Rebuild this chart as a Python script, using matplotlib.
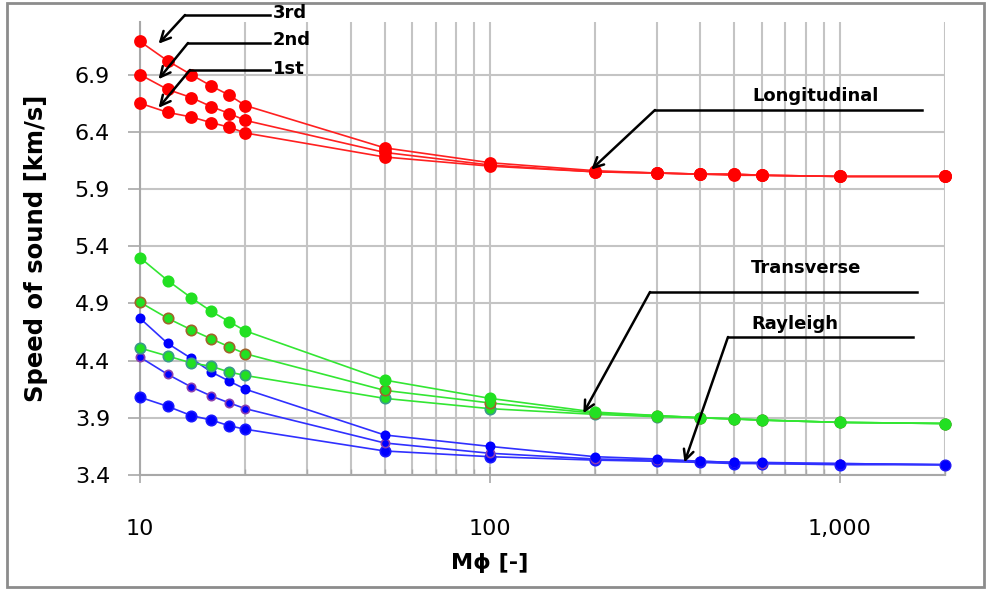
import numpy as np
import matplotlib
matplotlib.use('Agg')
from matplotlib import pyplot as plt
from matplotlib.lines import Line2D
from matplotlib.patches import Rectangle
from matplotlib.ticker import FixedLocator, FuncFormatter, NullFormatter

# M_phi values (x axis, log scale)
m_phi = [10, 12, 14, 16, 18, 20, 50, 100, 200, 300, 400, 500, 600, 1000, 2000]

# Longitudinal speed of sound [km/s]
long_1st = [6.65, 6.57, 6.53, 6.48, 6.44, 6.39, 6.18, 6.10, 6.05, 6.04, 6.03, 6.02, 6.02, 6.01, 6.01]
long_2nd = [6.90, 6.77, 6.70, 6.62, 6.56, 6.50, 6.22, 6.11, 6.05, 6.04, 6.03, 6.03, 6.02, 6.01, 6.01]
long_3rd = [7.19, 7.02, 6.90, 6.80, 6.72, 6.63, 6.26, 6.13, 6.06, 6.04, 6.03, 6.03, 6.02, 6.01, 6.01]

# Transverse
trans_1st = [4.51, 4.44, 4.38, 4.35, 4.30, 4.27, 4.07, 3.98, 3.93, 3.91, 3.90, 3.89, 3.88, 3.86, 3.85]
trans_2nd = [4.91, 4.77, 4.67, 4.59, 4.52, 4.46, 4.14, 4.03, 3.94, 3.92, 3.90, 3.89, 3.88, 3.86, 3.85]
trans_3rd = [5.30, 5.10, 4.95, 4.83, 4.74, 4.66, 4.23, 4.07, 3.95, 3.92, 3.90, 3.89, 3.88, 3.86, 3.85]

# Rayleigh
ray_1st = [4.08, 4.00, 3.92, 3.88, 3.83, 3.80, 3.61, 3.56, 3.53, 3.52, 3.51, 3.50, 3.50, 3.49, 3.49]
ray_2nd = [4.43, 4.28, 4.17, 4.09, 4.03, 3.98, 3.68, 3.59, 3.54, 3.53, 3.52, 3.51, 3.50, 3.50, 3.49]
ray_3rd = [4.77, 4.55, 4.42, 4.30, 4.22, 4.15, 3.75, 3.65, 3.56, 3.54, 3.52, 3.51, 3.51, 3.50, 3.49]

y_ticks = [3.4, 3.9, 4.4, 4.9, 5.4, 5.9, 6.4, 6.9]

W, H = 987, 590


def px(x, y):
    """Pixel position in the figure -> figure fraction"""
    return x / W, 1 - y / H


fig = plt.figure(figsize=(W / 100, H / 100), dpi=100)
ax = fig.add_axes([140 / W, 1 - 475 / H, 805 / W, 453 / H])

grid_col = '#c4c4c4'

# series: values, line colour, marker face, marker edge, marker size
series = [
    (ray_1st, '#3030ff', '#0000ff', '#1a1aff', 7.5),
    (ray_2nd, '#3030ff', '#0000ff', '#8a3fb0', 6),
    (ray_3rd, '#3030ff', '#0000ff', '#0000ff', 6),
    (trans_1st, '#33e633', '#22e022', '#3a9a8a', 7.5),
    (trans_2nd, '#33e633', '#22e022', '#a0642a', 7.5),
    (trans_3rd, '#33e633', '#22e022', '#22e022', 7.5),
    (long_1st, '#ff2020', '#ff0000', '#ff0000', 8),
    (long_2nd, '#ff2020', '#ff0000', '#ff0000', 8),
    (long_3rd, '#ff2020', '#ff0000', '#ff0000', 8),
]

for vals, lc, mfc, mec, ms in series:
    ax.plot(m_phi, vals, '-', color=lc, lw=1.2, marker='o', ms=ms,
            mfc=mfc, mec=mec, mew=1.2, clip_on=False, zorder=3)

ax.set_xscale('log')
ax.set_xlim(10, 2000)
ax.set_ylim(3.4, 7.36)
ax.set_yticks(y_ticks)
ax.yaxis.set_major_formatter(FuncFormatter(lambda v, p: '%.1f' % v))
ax.xaxis.set_major_locator(FixedLocator([10, 100, 1000]))
ax.xaxis.set_minor_locator(FixedLocator(
    [20, 30, 40, 50, 60, 70, 80, 90, 200, 300, 400, 500, 600, 700, 800, 900, 2000]))
ax.xaxis.set_major_formatter(FuncFormatter(lambda v, p: '{:,.0f}'.format(v)))
ax.xaxis.set_minor_formatter(NullFormatter())

ax.grid(which='major', color=grid_col, lw=1.5, zorder=0)
ax.grid(which='minor', axis='x', color=grid_col, lw=1.5, zorder=0)
ax.set_axisbelow(True)

for s in ['top', 'right']:
    ax.spines[s].set_visible(False)
for s in ['left', 'bottom']:
    ax.spines[s].set_color('#a8a8a8')
    ax.spines[s].set_linewidth(1.5)

ax.tick_params(axis='y', which='major', direction='out', length=8.5, width=1.2,
               color='#a8a8a8', pad=13, labelsize=16)
ax.tick_params(axis='x', which='major', direction='inout', length=12, width=1.2,
               color='#a8a8a8', pad=26, labelsize=16)
ax.tick_params(axis='x', which='minor', direction='in', length=4, width=1.0,
               color='#a8a8a8')

fig.text(*px(490, 563), 'M\u03d5 [-]', ha='center', va='center',
         fontsize=16, fontweight='bold')
fig.text(*px(36, 248), 'Speed of sound [km/s]', ha='center', va='center',
         rotation=90, fontsize=17.5, fontweight='bold')

# Leader-line annotations: (label, arrow tip in data, elbow px, line end px, text px)
notes = [
    ('3rd', (11.3, 7.17), (185, 15), (270, 15), (273, 13)),
    ('2nd', (11.3, 6.86), (188, 43), (270, 43), (273, 40)),
    ('1st', (11.3, 6.61), (190, 70), (270, 70), (273, 69)),
    ('Longitudinal', (195, 6.07), (655, 110), (922, 110), (752, 96)),
    ('Transverse', (185, 3.94), (650, 292), (917, 292), (751, 268)),
    ('Rayleigh', (360, 3.51), (728, 337), (913, 337), (751, 324)),
]

for label, tip, elbow, end, tpos in notes:
    ax.annotate('', xy=tip, xycoords='data', xytext=px(*elbow),
                textcoords='figure fraction', annotation_clip=False,
                arrowprops=dict(arrowstyle='->', color='black', lw=1.8,
                                mutation_scale=18, shrinkA=0, shrinkB=0))
    ex, ey = px(*elbow)
    fx, fy = px(*end)
    fig.add_artist(Line2D([ex, fx], [ey, fy], color='black', lw=1.8,
                          transform=fig.transFigure))
    fig.text(*px(*tpos), label, ha='left', va='center', fontsize=13,
             fontweight='bold')

# outer chart border
x0, y1 = px(7, 3)
x1, y0 = px(984, 587)
fig.add_artist(Rectangle((x0, y0), x1 - x0, y1 - y0, fill=False,
                         edgecolor='#8c8c8c', lw=2, transform=fig.transFigure))

fig.savefig('out.png', dpi=100)
